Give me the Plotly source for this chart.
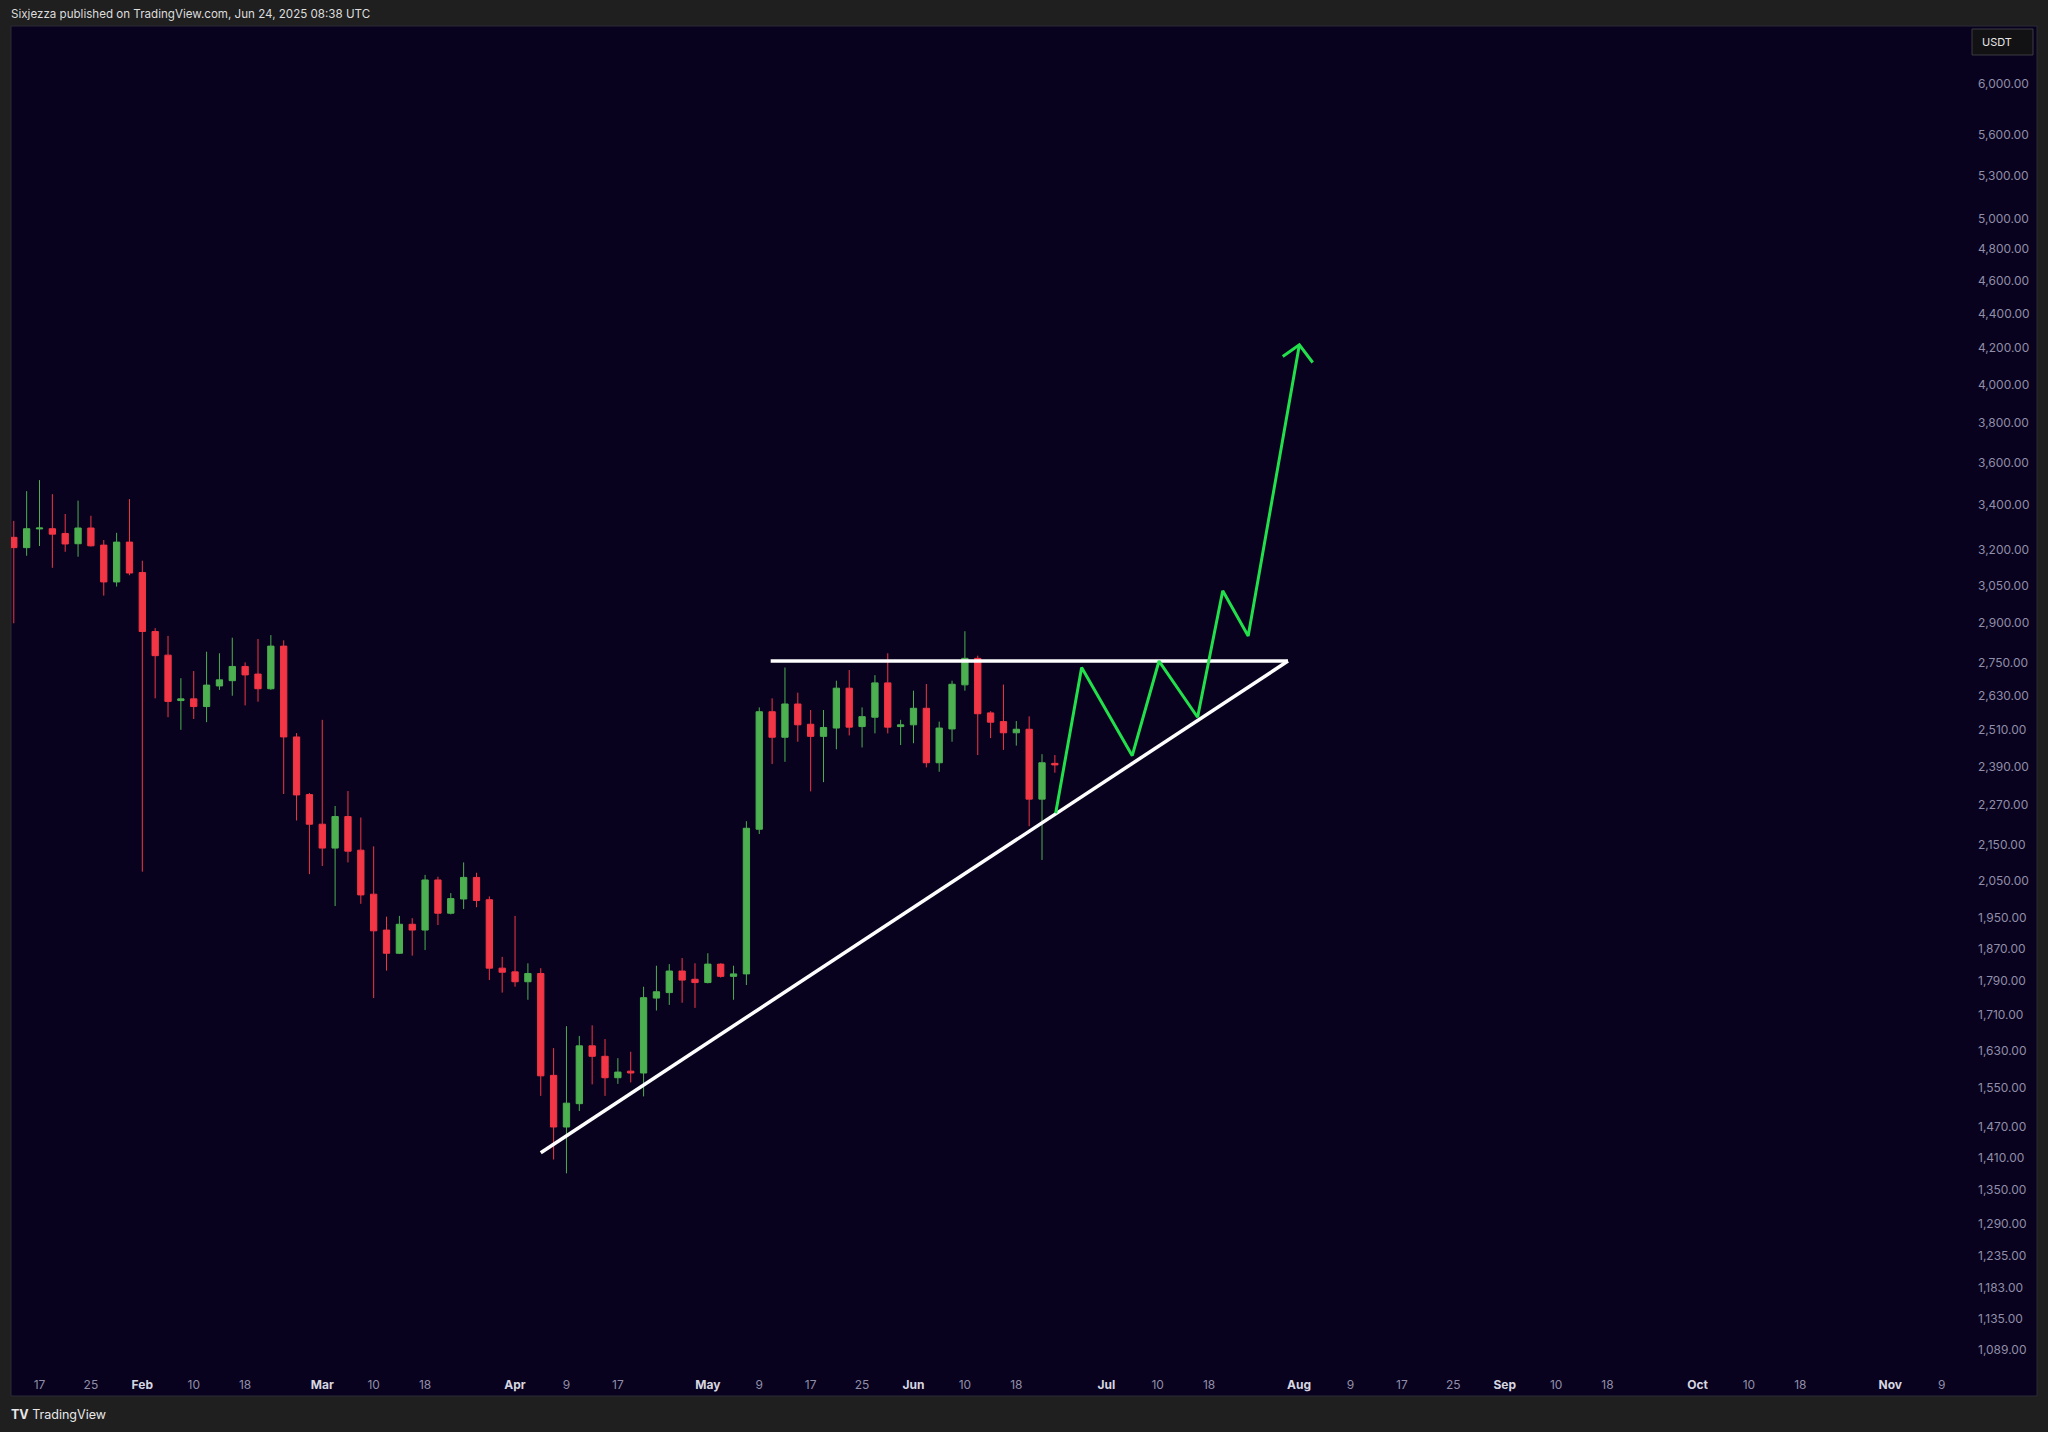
import plotly.graph_objects as go
import pandas as pd

# ---------------- data ----------------
bar_dates = pd.date_range("2025-01-13", periods=82, freq="2D")  # 2-day candles, Jan 13 .. Jun 24

opens = [3255, 3210, 3292, 3293, 3272, 3227, 3296, 3221, 3065, 3234,
         3104, 2867, 2777, 2612, 2618, 2591, 2664, 2683, 2735, 2707,
         2654, 2811, 2487, 2301, 2211, 2141, 2234, 2135, 2012, 1917,
         1858, 1932, 1917, 2051, 1961, 1999, 2058, 1997, 1821, 1812,
         1788, 1808, 1576, 1470, 1517, 1640, 1617, 1571, 1585, 1581,
         1749, 1762, 1814, 1794, 1786, 1831, 1801, 1807, 2196, 2573,
         2486, 2600, 2530, 2489, 2517, 2656, 2522, 2554, 2675, 2522,
         2528, 2585, 2402, 2514, 2668, 2765, 2569, 2539, 2501, 2513,
         2287, 2400]
highs = [3328, 3464, 3516, 3450, 3359, 3420, 3351, 3243, 3275, 3427,
         3154, 2880, 2850, 2692, 2718, 2790, 2784, 2843, 2750, 2838,
         2853, 2833, 2500, 2306, 2545, 2266, 2312, 2231, 2146, 1952,
         1954, 1948, 2065, 2060, 2015, 2100, 2071, 2006, 1849, 1954,
         1833, 1821, 1635, 1684, 1662, 1686, 1655, 1613, 1627, 1776,
         1827, 1831, 1846, 1833, 1858, 1833, 1827, 2220, 2588, 2620,
         2731, 2640, 2579, 2579, 2683, 2722, 2588, 2703, 2784, 2545,
         2647, 2671, 2539, 2683, 2868, 2775, 2575, 2669, 2541, 2557,
         2430, 2427]
lows = [2899, 3175, 3217, 3124, 3192, 3171, 3215, 3009, 3046, 3093,
        2074, 2620, 2554, 2511, 2548, 2537, 2650, 2629, 2595, 2608,
        2650, 2303, 2222, 2067, 2090, 1980, 2100, 1986, 1749, 1815,
        1856, 1852, 1866, 1930, 1958, 1972, 1977, 1792, 1762, 1776,
        1745, 1533, 1407, 1381, 1502, 1557, 1533, 1558, 1561, 1532,
        1720, 1733, 1738, 1726, 1784, 1798, 1745, 1780, 2182, 2398,
        2405, 2471, 2311, 2340, 2446, 2492, 2452, 2499, 2499, 2460,
        2466, 2387, 2373, 2471, 2647, 2427, 2483, 2444, 2458, 2205,
        2107, 2370]
closes = [3210, 3293, 3296, 3269, 3226, 3296, 3218, 3065, 3234, 3102,
          2867, 2775, 2609, 2618, 2591, 2667, 2686, 2735, 2704, 2654,
          2811, 2487, 2300, 2211, 2141, 2234, 2132, 2010, 1915, 1858,
          1932, 1917, 2051, 1961, 2000, 2058, 1995, 1821, 1811, 1788,
          1808, 1575, 1470, 1518, 1640, 1617, 1571, 1583, 1581, 1750,
          1764, 1814, 1792, 1786, 1831, 1801, 1807, 2199, 2573, 2486,
          2600, 2528, 2489, 2519, 2656, 2520, 2556, 2675, 2520, 2528,
          2585, 2402, 2517, 2670, 2765, 2566, 2537, 2501, 2513, 2287,
          2402, 2395]

# drawings
resistance_x = ["2025-05-10 18:40", "2025-07-30 06:30"]
resistance_y = [2755, 2755]
support_x = ["2025-04-05 00:00", "2025-07-30 06:30"]
support_y = [1420, 2755]
path_x = ["2025-06-24 03:00", "2025-06-28 04:00", "2025-07-06 01:00", "2025-07-10 05:00",
          "2025-07-16 05:00", "2025-07-20 03:00", "2025-07-24 02:00", "2025-08-01 01:00"]
path_y = [2244, 2731, 2425, 2755, 2554, 3029, 2850, 4219]
arrow_x = ["2025-07-29 11:00", "2025-08-01 01:00", "2025-08-03 03:00"]
arrow_y = [4153, 4219, 4120]

# axis ticks
price_ticks = [6000, 5600, 5300, 5000, 4800, 4600, 4400, 4200, 4000, 3800, 3600, 3400,
               3200, 3050, 2900, 2750, 2630, 2510, 2390, 2270, 2150, 2050, 1950, 1870,
               1790, 1710, 1630, 1550, 1470, 1410, 1350, 1290, 1235, 1183, 1135, 1089]
time_tick_dates = ["2025-01-17", "2025-01-25", "2025-02-02", "2025-02-10", "2025-02-18",
                   "2025-03-02", "2025-03-10", "2025-03-18", "2025-04-01", "2025-04-09",
                   "2025-04-17", "2025-05-01", "2025-05-09", "2025-05-17", "2025-05-25",
                   "2025-06-02", "2025-06-10", "2025-06-18", "2025-07-02", "2025-07-10",
                   "2025-07-18", "2025-08-01", "2025-08-09", "2025-08-17", "2025-08-25",
                   "2025-09-02", "2025-09-10", "2025-09-18", "2025-10-02", "2025-10-10",
                   "2025-10-18", "2025-11-01", "2025-11-09"]
time_tick_labels = ["17", "25", "Feb", "10", "18", "Mar", "10", "18", "Apr", "9", "17",
                    "May", "9", "17", "25", "Jun", "10", "18", "Jul", "10", "18", "Aug",
                    "9", "17", "25", "Sep", "10", "18", "Oct", "10", "18", "Nov", "9"]

# ---------------- style ----------------
W, H = 2048, 1432
PL, PR, PT, PB = 11, 1965, 26, 1370   # plot area in pixels
NAVY = "#08021e"
FRAME = "#1f1f1f"
UP = "#4CAF50"
DOWN = "#F23645"
AXIS_TXT = "#908ea8"
FONT = "Inter, Roboto, sans-serif"


def px_x(p):
    return (p - PL) / (PR - PL)


def px_y(p):
    return (PB - p) / (PB - PT)


tick_text = []
for lab in time_tick_labels:
    if lab.isdigit():
        tick_text.append(f'<span style="color:{AXIS_TXT}">{lab}</span>')
    else:
        tick_text.append(f'<b><span style="color:#d6d6e0">{lab}</span></b>')

fig = go.Figure()
fig.add_trace(go.Candlestick(
    x=bar_dates, open=opens, high=highs, low=lows, close=closes,
    increasing=dict(line=dict(color=UP, width=1), fillcolor=UP),
    decreasing=dict(line=dict(color=DOWN, width=1), fillcolor=DOWN),
    whiskerwidth=0, showlegend=False, hoverinfo="skip",
))
fig.add_trace(go.Scatter(x=resistance_x, y=resistance_y, mode="lines",
                         line=dict(color="#ffffff", width=3.5), showlegend=False, hoverinfo="skip"))
fig.add_trace(go.Scatter(x=support_x, y=support_y, mode="lines",
                         line=dict(color="#ffffff", width=3.5), showlegend=False, hoverinfo="skip"))
fig.add_trace(go.Scatter(x=path_x, y=path_y, mode="lines",
                         line=dict(color="#22e04b", width=3), showlegend=False, hoverinfo="skip"))
fig.add_trace(go.Scatter(x=arrow_x, y=arrow_y, mode="lines",
                         line=dict(color="#22e04b", width=3), showlegend=False, hoverinfo="skip"))

shapes = [
    dict(type="rect", xref="paper", yref="paper", x0=px_x(11), x1=px_x(2037),
         y0=px_y(1396), y1=px_y(26), fillcolor=NAVY, line=dict(color="#2c2b36", width=1), layer="below"),
    dict(type="rect", xref="paper", yref="paper", x0=px_x(1972), x1=px_x(2033),
         y0=px_y(55), y1=px_y(29), fillcolor="#121214", line=dict(color="#3a3a42", width=1), layer="above"),
]

annotations = [
    dict(text="Sixjezza published on TradingView.com, Jun 24, 2025 08:38 UTC",
         xref="paper", yref="paper", x=px_x(9), y=px_y(14), xanchor="left", yanchor="middle",
         showarrow=False, font=dict(family=FONT, size=11.6, color="#dcdcdc")),
    dict(text="<b>TV</b> TradingView", xref="paper", yref="paper", x=px_x(9), y=px_y(1414),
         xanchor="left", yanchor="middle", showarrow=False,
         font=dict(family=FONT, size=12.5, color="#e8e8e8")),
    dict(text="USDT", xref="paper", yref="paper", x=px_x(1980), y=px_y(42),
         xanchor="left", yanchor="middle", showarrow=False,
         font=dict(family=FONT, size=11, color="#e6e6e6")),
]

fig.update_layout(
    width=W, height=H,
    margin=dict(l=PL, r=W - PR, t=PT, b=H - PB, pad=0),
    paper_bgcolor=FRAME, plot_bgcolor=NAVY,
    font=dict(family=FONT, size=12, color=AXIS_TXT),
    shapes=shapes, annotations=annotations,
    showlegend=False,
    xaxis=dict(type="date", range=["2025-01-12 13:34", "2025-11-12 15:00"],
               rangeslider=dict(visible=False), showgrid=False, zeroline=False,
               showline=False, ticks="", tickvals=time_tick_dates, ticktext=tick_text,
               tickfont=dict(family=FONT, size=12, color=AXIS_TXT), ticklabelstandoff=6),
    yaxis=dict(type="log", range=[3.02506, 3.81190], side="right", showgrid=False,
               zeroline=False, showline=False, ticks="",
               tickvals=price_ticks, ticktext=[f"{v:,.2f}" for v in price_ticks],
               tickfont=dict(family=FONT, size=12, color=AXIS_TXT), ticklabelstandoff=12),
)

fig.write_html("out.html", config={"displayModeBar": False},
               post_script="document.body.style.margin='0';document.body.style.background='#1f1f1f';")
